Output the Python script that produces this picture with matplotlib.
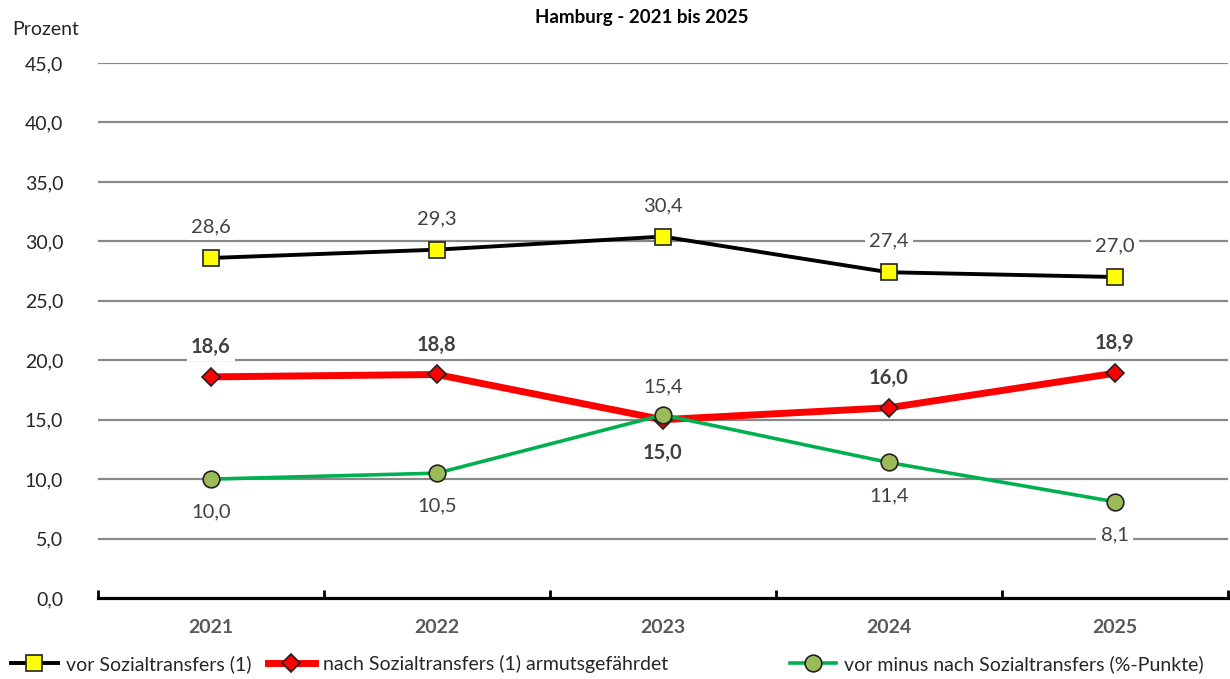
import numpy as np
import matplotlib.pyplot as plt

plt.rcParams['font.family'] = ['Lato', 'DejaVu Sans']

years = ['2021', '2022', '2023', '2024', '2025']
vor = [28.6, 29.3, 30.4, 27.4, 27.0]
nach = [18.6, 18.8, 15.0, 16.0, 18.9]
diff = [10.0, 10.5, 15.4, 11.4, 8.1]

# label offsets in points (positive = above)
off_vor = [22.3, 22.3, 22.3, 22.3, 22.3]
off_nach = [21.6, 21.6, -23.8, 21.6, 21.6]
off_diff = [-23.8, -23.8, 20.2, -23.8, -23.8]

fig = plt.figure(figsize=(12.3, 6.79), dpi=100)
ax = fig.add_axes([0.0797, 0.1193, 0.9183, 0.7879])
x = np.arange(len(years))

l1, = ax.plot(x, vor, color='black', lw=2.8, marker='s', ms=11.5, mfc='#ffff00',
              mec='#222222', mew=1.2, label='vor Sozialtransfers (1)', zorder=4)
l2, = ax.plot(x, nach, color='#ff0000', lw=5, marker='D', ms=9, mfc='#ff0000',
              mec='#222222', mew=1.2, label='nach Sozialtransfers (1) armutsgefährdet', zorder=3)
l3, = ax.plot(x, diff, color='#00b050', lw=2.6, marker='o', ms=12, mfc='#9bbb59',
              mec='#222222', mew=1.2, label='vor minus nach Sozialtransfers (%-Punkte)', zorder=5)

box = dict(facecolor='white', edgecolor='none', pad=3)


def labels(vals, offs, bold):
    for i, (v, o) in enumerate(zip(vals, offs)):
        ax.annotate(f'{v:.1f}'.replace('.', ','), (x[i], v), xytext=(0, o),
                    textcoords='offset points', ha='center', va='center',
                    fontsize=14.5, color='#404040',
                    fontweight='bold' if bold else 'normal', bbox=box, zorder=2)


labels(vor, off_vor, False)
labels(nach, off_nach, True)
labels(diff, off_diff, False)

ax.set_xlim(-0.5, 4.5)
ax.set_ylim(0, 45)
ax.set_yticks(np.arange(0, 46, 5))
ax.set_yticklabels([f'{v:.1f}'.replace('.', ',') for v in np.arange(0, 46, 5)],
                   fontsize=14, color='#262626')
ax.tick_params(axis='y', length=0, pad=25)
for yv in np.arange(5, 46, 5):
    ax.axhline(yv, color='#898989', lw=1.6, zorder=0)

ax.set_xticks(x)
ax.set_xticklabels(years, fontsize=14, fontweight='bold', color='#595959')
ax.set_xticks(np.arange(-0.5, 4.6, 1), minor=True)
ax.tick_params(axis='x', which='major', length=0, pad=15)
ax.tick_params(axis='x', which='minor', direction='in', length=6, width=2, color='black')

for s in ['top', 'right', 'left']:
    ax.spines[s].set_visible(False)
ax.spines['bottom'].set_linewidth(2.3)
ax.spines['bottom'].set_color('black')

fig.text(0.5215, 0.974, 'Hamburg - 2021 bis 2025', ha='center', va='center',
         fontsize=13.5, fontweight='bold', color='black')
fig.text(0.01, 0.957, 'Prozent', ha='left', va='center', fontsize=14, color='#262626')

# three legend entries placed like the original
for h, xpos in zip([l1, l2, l3], [0.009, 0.218, 0.642]):
    leg = fig.legend(handles=[h], loc='center left', bbox_to_anchor=(xpos, 0.022),
                     frameon=False, fontsize=14, handlelength=2.4, handletextpad=0.4,
                     borderpad=0, borderaxespad=0)
    for t in leg.get_texts():
        t.set_color('#262626')

fig.savefig('out.png', dpi=100)
